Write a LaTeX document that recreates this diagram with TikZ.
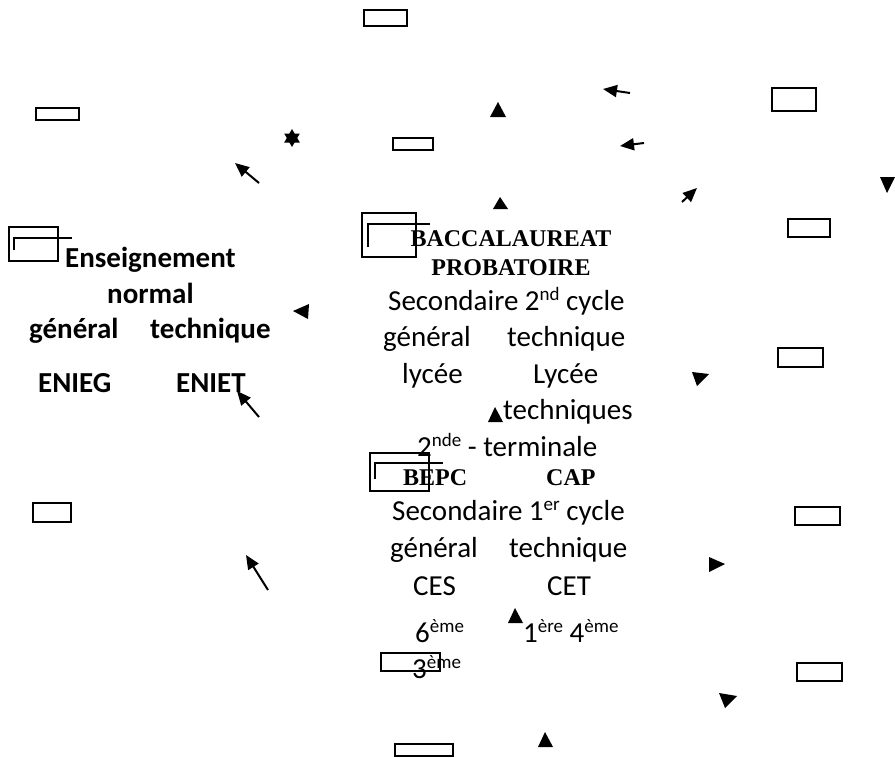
\documentclass[tikz,border=0pt]{standalone}
\usepackage{fontspec}
\setmainfont{Carlito}
\newfontfamily\tnrfont{Liberation Serif}
\usetikzlibrary{arrows.meta}
\newcommand\supx[1]{\raisebox{10pt}{\fontsize{19}{19}\selectfont #1}}
\tikzset{
  txt/.style={inner sep=0pt, anchor=base west, font=\fontsize{29}{35}\selectfont},
  btxt/.style={inner sep=0pt, anchor=base west, font=\fontsize{29}{35}\selectfont\bfseries},
  stxt/.style={inner sep=0pt, anchor=base, font=\fontsize{24}{28}\selectfont\tnrfont\bfseries},
  box/.style={draw=black, line width=1.2pt},
  brk/.style={draw=black, line width=1.6pt},
  tri/.style={fill=black, draw=none},
  arr/.style={line width=2pt, -{Triangle[length=14pt,width=12pt]}}
}
\begin{document}
\begin{tikzpicture}[x=1pt,y=-1pt]
\useasboundingbox (0,0) rectangle (895,758);
% plain boxes
\draw[box] (364,10) rectangle (407,26);
\draw[box] (36,108) rectangle (79,120);
\draw[box] (393,138) rectangle (433,150);
\draw[box] (772,88) rectangle (816,111);
\draw[box] (788,219) rectangle (830,237);
\draw[box] (778,348) rectangle (823,367);
\draw[box] (795,507) rectangle (840,525);
\draw[box] (33,503) rectangle (71,522);
\draw[box] (797,663) rectangle (842,681);
\draw[box] (381,653) rectangle (440,671);
\draw[box] (395,744) rectangle (453,756);
% boxes with brackets
\draw[box] (9,227) rectangle (58,261);
\draw[brk] (14,250) -- (14,238) -- (72,238);
\draw[box] (362,213) rectangle (416,257);
\draw[brk] (368,247) -- (368,224) -- (430,224);
\draw[box] (370,453) rectangle (429,491);
\draw[brk] (375,479) -- (375,463) -- (443,463);
% triangles
\fill[tri] (490,117) -- (506,117) -- (498,102) -- cycle;
\fill[tri] (493,209) -- (508,209) -- (500,197) -- cycle;
\fill[tri] (488,422) -- (503,422) -- (495,407) -- cycle;
\fill[tri] (508,623) -- (523,623) -- (515,608) -- cycle;
\fill[tri] (538,747) -- (553,747) -- (545,732) -- cycle;
\fill[tri] (880,177) -- (895,177) -- (887,193) -- cycle;
\fill[tri] (293,311) -- (309,304) -- (308,319) -- cycle;
\fill[tri] (692,372) -- (709,374) -- (697,386) -- cycle;
\fill[tri] (709,557) -- (725,564) -- (709,572) -- cycle;
\fill[tri] (719,693) -- (737,696) -- (725,708) -- cycle;
% star
\fill[tri] (292,129) -- (299.8,142.5) -- (284.2,142.5) -- cycle;
\fill[tri] (292,147) -- (299.8,133.5) -- (284.2,133.5) -- cycle;
% arrows
\coordinate (a1s) at (259,183); \coordinate (a1e) at (235,163);
\coordinate (a2s) at (259,417); \coordinate (a2e) at (237,391);
\coordinate (a3s) at (268,590); \coordinate (a3e) at (246,555);
\coordinate (a4s) at (630,93);  \coordinate (a4e) at (603,89);
\coordinate (a5s) at (644,143); \coordinate (a5e) at (620,146);
\coordinate (a6s) at (682,202); \coordinate (a6e) at (697,188);
\draw[arr] (a1s) -- (a1e);
\draw[arr] (a2s) -- (a2e);
\draw[arr] (a3s) -- (a3e);
\draw[arr] (a4s) -- (a4e);
\draw[arr] (a5s) -- (a5e);
\draw[arr] (a6s) -- (a6e);
% left block
\node[btxt] (ens) at (65,267) {Enseignement};
\node[btxt] (nor) at (107,303) {normal};
\node[btxt] (lg) at (29,338) {général};
\node[btxt] (lt) at (150,338) {technique};
\node[btxt] (enieg) at (38,392) {ENIEG};
\node[btxt] (eniet) at (176,392) {ENIET};
% centre block
\node[stxt] (bac) at (511,246) {BACCALAUREAT};
\node[stxt] (prob) at (511,275) {PROBATOIRE};
\node[txt] (s2) at (388,310) {Secondaire 2\supx{nd} cycle};
\node[txt] (g2) at (383,346) {général};
\node[txt] (t2) at (507,346) {technique};
\node[txt] (ly) at (402,383) {lycée};
\node[txt] (lyt) at (533,383) {Lycée};
\node[txt] (tq) at (503,419) {techniques};
\node[txt] (term) at (417,456) {2\supx{nde} - terminale};
\node[stxt, anchor=base west] (bepc) at (403,485) {BEPC};
\node[stxt, anchor=base west] (cap) at (546,485) {CAP};
\node[txt] (s1) at (392,520) {Secondaire 1\supx{er} cycle};
\node[txt] (g1) at (390,557) {général};
\node[txt] (t1) at (509,557) {technique};
\node[txt] (ces) at (413,595) {CES};
\node[txt] (cet) at (547,595) {CET};
\node[txt] (six) at (415,642) {6\supx{ème}};
\node[txt] (one) at (523,642) {1\supx{ère} 4\supx{ème}};
\node[txt] (three) at (412,678) {3\supx{ème}};
\end{tikzpicture}
\end{document}
